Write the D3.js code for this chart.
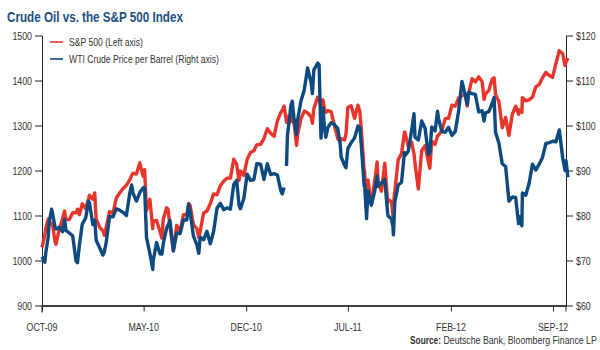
<!DOCTYPE html>
<html><head><meta charset="utf-8">
<script src="https://cdn.jsdelivr.net/npm/d3@7"></script>
<style>
body{margin:0;background:#fff}
svg{display:block;font-family:"Liberation Sans",Arial,sans-serif}
</style></head><body>
<svg id="c" width="600" height="350"></svg>
<script>
const dates = [
"2009-10-01","2009-10-07","2009-10-09","2009-10-14","2009-10-16","2009-10-21","2009-10-23","2009-10-28","2009-10-30",
"2009-11-06","2009-11-13","2009-11-17","2009-11-20","2009-11-27",
"2009-12-04","2009-12-11","2009-12-14","2009-12-18","2009-12-24","2009-12-31",
"2010-01-06","2010-01-08","2010-01-15","2010-01-19","2010-01-22","2010-01-29",
"2010-02-05","2010-02-08","2010-02-12","2010-02-19","2010-02-26",
"2010-03-05","2010-03-12","2010-03-19","2010-03-26",
"2010-04-02","2010-04-06","2010-04-09","2010-04-16","2010-04-23","2010-04-30",
"2010-05-03","2010-05-07","2010-05-14","2010-05-20","2010-05-21","2010-05-28",
"2010-06-04","2010-06-08","2010-06-11","2010-06-18","2010-06-21","2010-06-25",
"2010-07-02","2010-07-09","2010-07-16","2010-07-23","2010-07-30",
"2010-08-03","2010-08-06","2010-08-13","2010-08-20","2010-08-24","2010-08-27",
"2010-09-03","2010-09-10","2010-09-17","2010-09-24",
"2010-10-01","2010-10-08","2010-10-15","2010-10-22","2010-10-29",
"2010-11-05","2010-11-11","2010-11-16","2010-11-19","2010-11-26",
"2010-12-03","2010-12-10","2010-12-17","2010-12-23","2010-12-31",
"2011-01-07","2011-01-14","2011-01-21","2011-01-28",
"2011-02-04","2011-02-11","2011-02-14","2011-02-18","2011-02-22","2011-02-23","2011-02-25",
"2011-03-02","2011-03-04","2011-03-07","2011-03-11","2011-03-16","2011-03-18","2011-03-25",
"2011-04-01","2011-04-08","2011-04-15","2011-04-18","2011-04-21","2011-04-29",
"2011-05-02","2011-05-06","2011-05-10","2011-05-13","2011-05-16","2011-05-20","2011-05-27",
"2011-06-03","2011-06-10","2011-06-15","2011-06-17","2011-06-24","2011-06-27",
"2011-07-01","2011-07-08","2011-07-15","2011-07-22","2011-07-26","2011-07-29",
"2011-08-04","2011-08-05","2011-08-08","2011-08-09","2011-08-12","2011-08-19","2011-08-26","2011-08-31",
"2011-09-02","2011-09-09","2011-09-16","2011-09-22","2011-09-23","2011-09-30",
"2011-10-03","2011-10-04","2011-10-07","2011-10-14","2011-10-21","2011-10-27","2011-10-28",
"2011-11-04","2011-11-11","2011-11-16","2011-11-18","2011-11-25",
"2011-12-02","2011-12-09","2011-12-16","2011-12-19","2011-12-23","2011-12-30",
"2012-01-04","2012-01-06","2012-01-13","2012-01-20","2012-01-27",
"2012-02-03","2012-02-10","2012-02-17","2012-02-24",
"2012-03-02","2012-03-06","2012-03-09","2012-03-16","2012-03-23","2012-03-30",
"2012-04-06","2012-04-10","2012-04-13","2012-04-20","2012-04-27",
"2012-05-01","2012-05-04","2012-05-11","2012-05-18","2012-05-25",
"2012-06-01","2012-06-08","2012-06-15","2012-06-21","2012-06-22","2012-06-28","2012-06-29",
"2012-07-06","2012-07-13","2012-07-20","2012-07-27",
"2012-08-03","2012-08-10","2012-08-17","2012-08-24","2012-08-31",
"2012-09-07","2012-09-14","2012-09-21","2012-09-26","2012-09-28","2012-10-02"
];
const spx = [
1029,1057,1072,1092,1087,1081,1080,1043,1036,
1069,1093,1110,1091,1091,
1106,1106,1114,1102,1126,1115,
1137,1145,1136,1150,1092,1074,
1066,1056,1075,1109,1104,
1139,1150,1160,1167,
1179,1189,1194,1192,1217,1187,
1202,1111,1136,1071,1087,1089,
1065,1050,1092,1117,1114,1076,
1022,1078,1065,1102,1102,
1127,1122,1079,1071,1051,1065,
1105,1110,1126,1148,
1146,1166,1176,1183,1183,
1225,1214,1178,1199,1189,
1225,1240,1244,1257,1258,
1271,1293,1283,1276,
1310,1329,1333,1343,1315,1307,1320,
1308,1321,1311,1304,1256,1279,1314,
1332,1328,1320,1305,1337,1363,
1361,1340,1357,1338,1329,1333,1331,
1300,1271,1265,1271,1268,1280,
1340,1344,1316,1345,1331,1292,
1200,1199,1119,1172,1179,1124,1177,1219,
1174,1154,1216,1129,1136,1131,
1099,1124,1155,1224,1238,1285,1285,
1253,1263,1237,1216,1159,
1244,1255,1219,1205,1265,1258,
1277,1278,1289,1315,1316,
1345,1343,1361,1366,
1370,1343,1371,1404,1397,1408,
1398,1358,1370,1378,1403,
1406,1369,1353,1295,1318,
1278,1325,1343,1325,1335,1329,1362,
1355,1357,1363,1386,
1391,1406,1418,1411,1407,
1438,1466,1460,1433,1441,1450
];
const wti = [
70.8,69.6,71.8,75.2,78.5,81.4,80.5,77.5,77.0,
77.4,76.4,79.1,76.7,76.1,
75.5,69.9,69.5,73.4,78.1,79.4,
83.2,82.8,78.0,79.0,74.5,72.9,
71.2,71.9,74.1,79.8,79.7,
81.5,81.2,80.7,80.0,
84.9,86.8,84.9,83.2,85.1,86.2,
86.2,75.1,71.6,68.0,70.0,74.0,
71.5,71.4,73.8,77.2,77.8,78.9,
72.1,76.1,76.0,79.0,79.0,
82.5,80.7,75.4,73.5,71.6,75.2,
74.6,76.5,73.7,76.5,
81.6,82.7,81.3,81.7,81.4,
86.9,87.8,82.3,81.5,83.8,
89.2,87.8,88.0,91.5,91.4,
88.0,91.5,89.1,89.3,
89.0,85.6,84.8,86.2,null,91.0,97.9,
102.2,104.4,105.4,101.2,98.0,101.1,105.4,
107.9,112.8,109.7,107.1,112.3,113.9,
113.5,97.2,103.9,99.7,97.4,99.5,100.6,
100.2,99.3,95.8,93.0,91.2,90.6,
94.9,96.2,97.2,99.9,99.6,95.7,
86.6,86.9,81.3,79.3,85.4,82.3,85.4,88.8,
86.5,87.2,88.0,80.5,79.9,79.2,
77.6,75.7,83.0,86.8,87.4,94.0,93.3,
94.3,99.0,102.6,97.4,96.8,
101.0,99.4,93.5,94.0,99.7,98.8,
103.2,101.6,98.7,98.5,99.6,
97.8,98.7,103.2,109.8,
106.7,104.7,107.4,107.1,106.9,103.0,
103.3,101.0,102.8,103.1,104.9,
106.2,98.5,96.1,91.5,90.9,
83.2,84.1,84.0,78.2,79.8,77.7,85.0,
84.5,87.1,91.4,90.1,
91.4,92.9,96.0,96.2,96.5,
96.4,99.0,92.9,90.0,92.2,88.5
];
const leftTicks = [900,1000,1100,1200,1300,1400,1500];
const rightTicks = [60,70,80,90,100,110,120];
const xTickDates = ["2009-10-01","2010-05-01","2010-12-01","2011-07-01","2012-02-01","2012-09-01"];
const xTickLabels = ["OCT-09","MAY-10","DEC-10","JUL-11","FEB-12","SEP-12"];
const seriesNames = ["S&P 500 (Left axis)","WTI Crude Price per Barrel (Right axis)"];
const titleText = "Crude Oil vs. the S&P 500 Index";
const sourceLabel = "Source:";
const sourceText = " Deutsche Bank, Bloomberg Finance LP";

const parse = d3.timeParse("%Y-%m-%d");
const svg = d3.select("#c");
const L = 42, R = 566, T = 35.5, B = 305.5;
const RED = "#e8352b", BLUE = "#0c4a80", TXT = "#333";
const NARROW = 0.8;

// narrow text by horizontal scaling (keeps bounding boxes honest)
function narrowText(parent, str, x, y, opts){
  const g = parent.append("g");
  const t = g.append("text").text(str).attr("fill",opts.fill||TXT)
    .style("font-size",(opts.size||11)+"px").style("font-weight",opts.bold?"bold":"normal")
    .attr("xml:space","preserve").style("white-space","pre");
  const w = t.node().getComputedTextLength();
  const s = opts.width ? opts.width/w : NARROW;
  const anchor = opts.anchor||"start";
  const x0 = anchor==="end" ? x - w*s : anchor==="middle" ? x - w*s/2 : x;
  g.attr("transform",`translate(${x0},${y}) scale(${s},1)`);
  return w*s;
}

const x = d3.scaleTime().domain([parse("2009-10-01"), parse("2012-09-28")]).range([L, R]);
const yL = d3.scaleLinear().domain([900,1500]).range([B, T]);
const yR = d3.scaleLinear().domain([60,120]).range([B, T]);

const rows = dates.map((d,i)=>({d:parse(d), s:spx[i], w:wti[i]}));

// axes (tick lines from d3 axes, labels narrowed)
const gL = svg.append("g").attr("transform",`translate(${L},0)`)
  .call(d3.axisLeft(yL).tickValues(leftTicks).tickSize(7).tickSizeOuter(0).tickFormat(""));
const gR = svg.append("g").attr("transform",`translate(${R},0)`)
  .call(d3.axisRight(yR).tickValues(rightTicks).tickSize(7).tickSizeOuter(0).tickFormat(""));
const gX = svg.append("g").attr("transform",`translate(0,${B})`)
  .call(d3.axisBottom(x).tickValues(xTickDates.map(parse)).tickSize(6).tickSizeOuter(0).tickFormat(""));
[gL,gR,gX].forEach(g=>{
  g.selectAll("line").attr("stroke","#222");
  g.select(".domain").attr("stroke","#222");
});
gX.select(".domain").attr("stroke","#000").attr("stroke-width",1.3);
svg.append("line").attr("x1",L).attr("x2",L).attr("y1",B).attr("y2",B+7).attr("stroke","#222");
svg.append("line").attr("x1",R).attr("x2",R).attr("y1",B).attr("y2",B+6).attr("stroke","#222");

leftTicks.forEach(v=>narrowText(svg, String(v), L-10, yL(v)+4, {anchor:"end"}));
rightTicks.forEach(v=>narrowText(svg, "$"+v, R+10, yR(v)+4, {anchor:"start"}));
xTickDates.forEach((d,i)=>narrowText(svg, xTickLabels[i], x(parse(d)), B+25, {anchor:"middle"}));

// lines
const lineS = d3.line().x(r=>x(r.d)).y(r=>yL(r.s)).defined(r=>r.s!=null);
const lineW = d3.line().x(r=>x(r.d)).y(r=>yR(r.w)).defined(r=>r.w!=null);
svg.append("path").datum(rows).attr("d",lineS).attr("fill","none").attr("stroke",RED)
  .attr("stroke-width",3.4).attr("stroke-linejoin","round");
svg.append("path").datum(rows).attr("d",lineW).attr("fill","none").attr("stroke",BLUE)
  .attr("stroke-width",3.4).attr("stroke-linejoin","round");

// title
narrowText(svg, titleText, 7, 21.5, {size:14, bold:true, fill:"#1c4f82", width:176});

// legend
const legW = [74,150];
[[RED,42],[BLUE,59]].forEach((c,i)=>{
  svg.append("line").attr("x1",50).attr("x2",63).attr("y1",c[1]).attr("y2",c[1])
    .attr("stroke",c[0]).attr("stroke-width",2).attr("opacity",0.8);
  narrowText(svg, seriesNames[i], 69, c[1]+4, {width:legW[i]});
});

// source
narrowText(svg, sourceLabel, 410, 344, {bold:true, width:31});
narrowText(svg, sourceText, 441, 344, {width:156});
</script>
</body></html>
